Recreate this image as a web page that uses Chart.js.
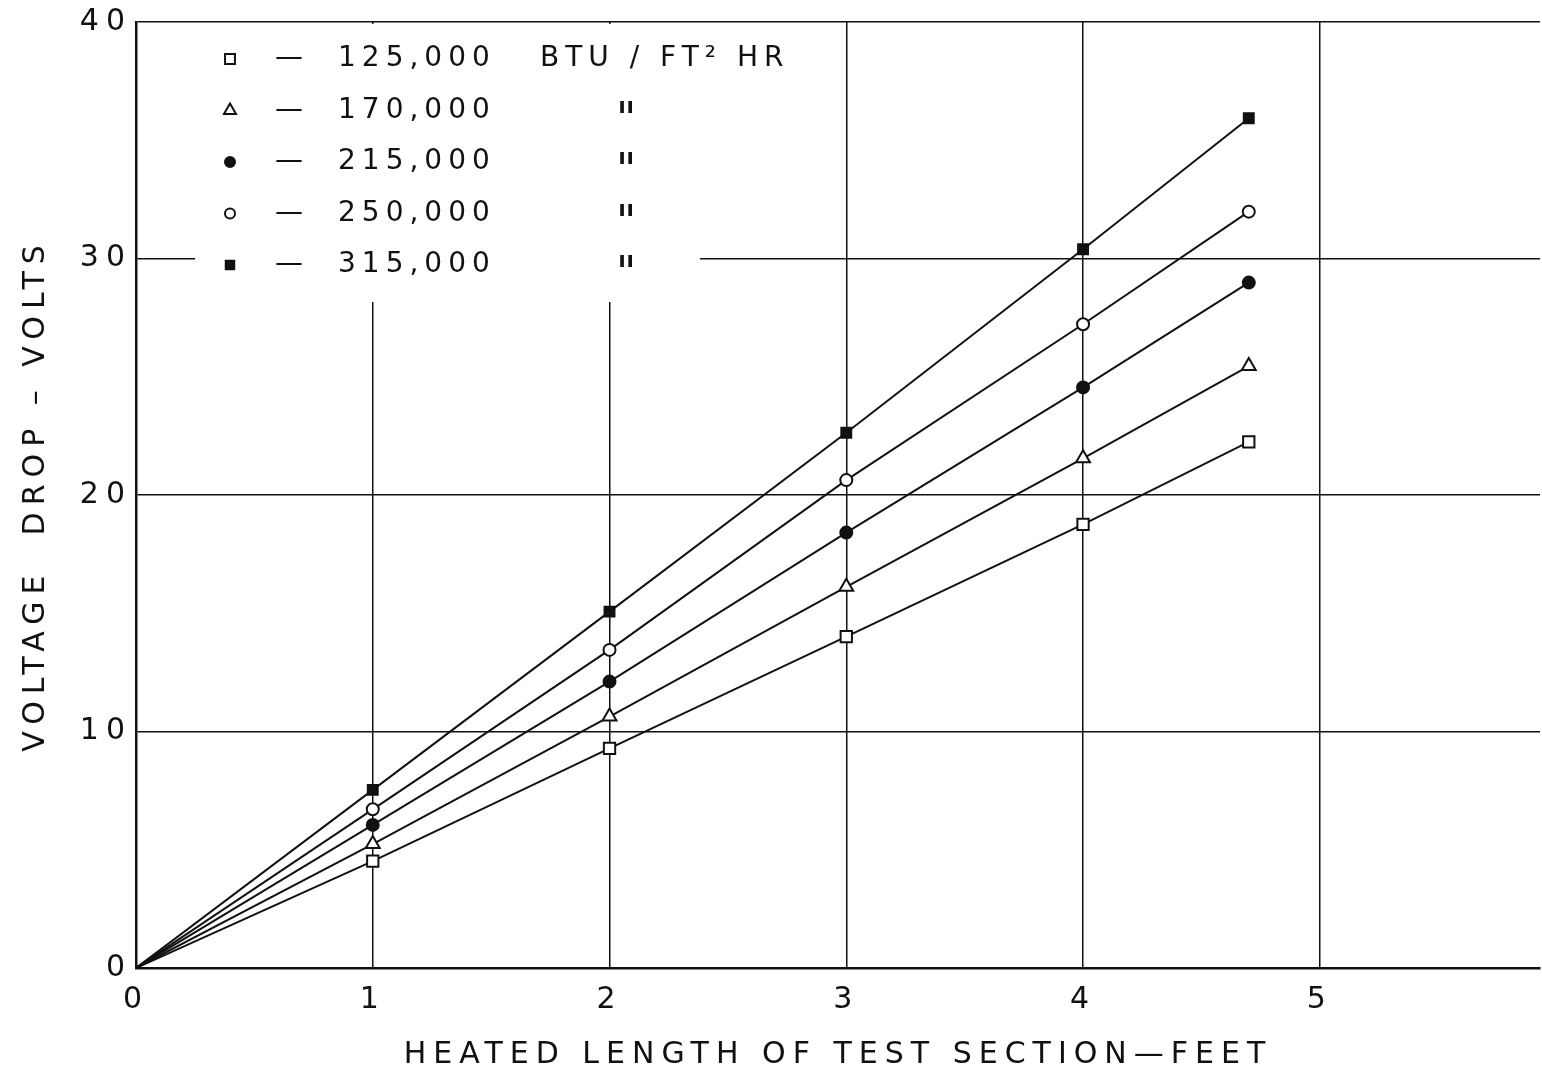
<!DOCTYPE html>
<html>
<head>
<meta charset="utf-8">
<script src="https://cdn.jsdelivr.net/npm/chart.js@4.4.1/dist/chart.umd.min.js"></script>
<style>
  html, body { margin: 0; padding: 0; background: #fff; overflow: hidden; }
  canvas { display: block; }
</style>
</head>
<body>
<canvas id="chart" width="1542" height="1077"></canvas>
<script>
// heated length (ft) and voltage drop (volts)
const lengthFt = [0, 1, 2, 3, 4, 4.7];
const drop125 = [0, 4.52, 9.29, 14.01, 18.76, 22.25];
const drop170 = [0, 5.24, 10.63, 16.12, 21.55, 25.45];
const drop215 = [0, 6.05, 12.11, 18.41, 24.55, 28.98];
const drop250 = [0, 6.71, 13.45, 20.63, 27.22, 31.98];
const drop315 = [0, 7.53, 15.07, 22.63, 30.39, 35.93];

const fluxLabels = ['125,000', '170,000', '215,000', '250,000', '315,000'];
const unitLabel = 'BTU / FT\u00B2 HR';
const dittoMark = '"';
const xTicks = [0, 1, 2, 3, 4, 5];
const yTicks = [0, 10, 20, 30, 40];

const FONT = "'DejaVu Sans', sans-serif";
const INK = '#111';

const markers = [
  { pointStyle: 'rect', fill: '#fff', radius: 8, legendRadius: 7 },
  { pointStyle: 'triangle', fill: '#fff', radius: 8, legendRadius: 7 },
  { pointStyle: 'circle', fill: INK, radius: 6, legendRadius: 5 },
  { pointStyle: 'circle', fill: '#fff', radius: 6, legendRadius: 5 },
  { pointStyle: 'rect', fill: INK, radius: 7, legendRadius: 6 }
];

const allSeries = [drop125, drop170, drop215, drop250, drop315];

const datasets = allSeries.map((vals, i) => ({
  label: fluxLabels[i],
  data: lengthFt.map((x, j) => ({ x: x, y: vals[j] })),
  showLine: true,
  borderColor: INK,
  borderWidth: 2,
  pointStyle: markers[i].pointStyle,
  pointBackgroundColor: markers[i].fill,
  pointBorderColor: INK,
  pointBorderWidth: 2,
  pointRadius: lengthFt.map(x => (x === 0 ? 0 : markers[i].radius))
}));

const spacing = {
  id: 'spacing',
  beforeDraw(chart) {
    chart.ctx.letterSpacing = '7px';
  }
};

// boxed key in the upper left, drawn over the grid
const keyBox = {
  id: 'keyBox',
  beforeDatasetsDraw(chart) {
    const { ctx, chartArea } = chart;
    ctx.save();
    ctx.letterSpacing = '6px';
    ctx.fillStyle = '#fff';
    ctx.fillRect(195, chartArea.top + 2, 505, 278);
    ctx.textBaseline = 'middle';
    fluxLabels.forEach((lab, i) => {
      const y = chartArea.top + 37 + i * 51.5;
      ctx.fillStyle = markers[i].fill;
      ctx.strokeStyle = INK;
      ctx.lineWidth = 2;
      Chart.helpers.drawPoint(ctx, {
        pointStyle: markers[i].pointStyle,
        radius: markers[i].legendRadius,
        borderWidth: 2,
        rotation: 0
      }, 230, y);
      ctx.font = '28px ' + FONT;
      ctx.fillStyle = INK;
      ctx.textAlign = 'center';
      ctx.fillText('\u2014', 292, y);
      ctx.textAlign = 'left';
      ctx.fillText(lab, 338, y);
      if (i === 0) {
        ctx.fillText(unitLabel, 540, y);
      } else {
        ctx.font = '44px ' + FONT;
        ctx.letterSpacing = '0px';
        ctx.textAlign = 'center';
        ctx.fillText(dittoMark, 626, y + 12);
        ctx.letterSpacing = '6px';
      }
    });
    ctx.restore();
  }
};

new Chart(document.getElementById('chart'), {
  type: 'scatter',
  data: { datasets: datasets },
  options: {
    responsive: false,
    animation: false,
    devicePixelRatio: 1,
    layout: { autoPadding: false, padding: { top: 22, right: 2, bottom: 0, left: 0 } },
    plugins: {
      legend: { display: false },
      tooltip: { enabled: false }
    },
    scales: {
      x: {
        type: 'linear',
        min: 0,
        max: 5.93,
        afterBuildTicks: s => { s.ticks = xTicks.map(v => ({ value: v })); },
        afterFit: s => { s.height = 109; },
        grid: { color: INK, lineWidth: 1.5, drawTicks: false },
        border: { color: INK, width: 2.5 },
        ticks: { color: INK, font: { family: FONT, size: 30 }, padding: 14, maxRotation: 0, autoSkip: false },
        title: {
          display: true,
          text: 'HEATED LENGTH OF TEST SECTION\u2014FEET',
          color: INK,
          font: { family: FONT, size: 30 },
          padding: { top: 0, bottom: 4 }
        }
      },
      y: {
        min: 0,
        max: 40,
        afterBuildTicks: s => { s.ticks = yTicks.map(v => ({ value: v })); },
        afterFit: s => { s.width = 136; },
        grid: { color: INK, lineWidth: 1.5, drawTicks: false },
        border: { color: INK, width: 2.5 },
        ticks: { color: INK, font: { family: FONT, size: 30 }, padding: 4 },
        title: {
          display: true,
          text: 'VOLTAGE  DROP \u2013 VOLTS',
          color: INK,
          font: { family: FONT, size: 30 },
          padding: { top: 18, bottom: 0 }
        }
      }
    }
  },
  plugins: [spacing, keyBox]
});
</script>
</body>
</html>
